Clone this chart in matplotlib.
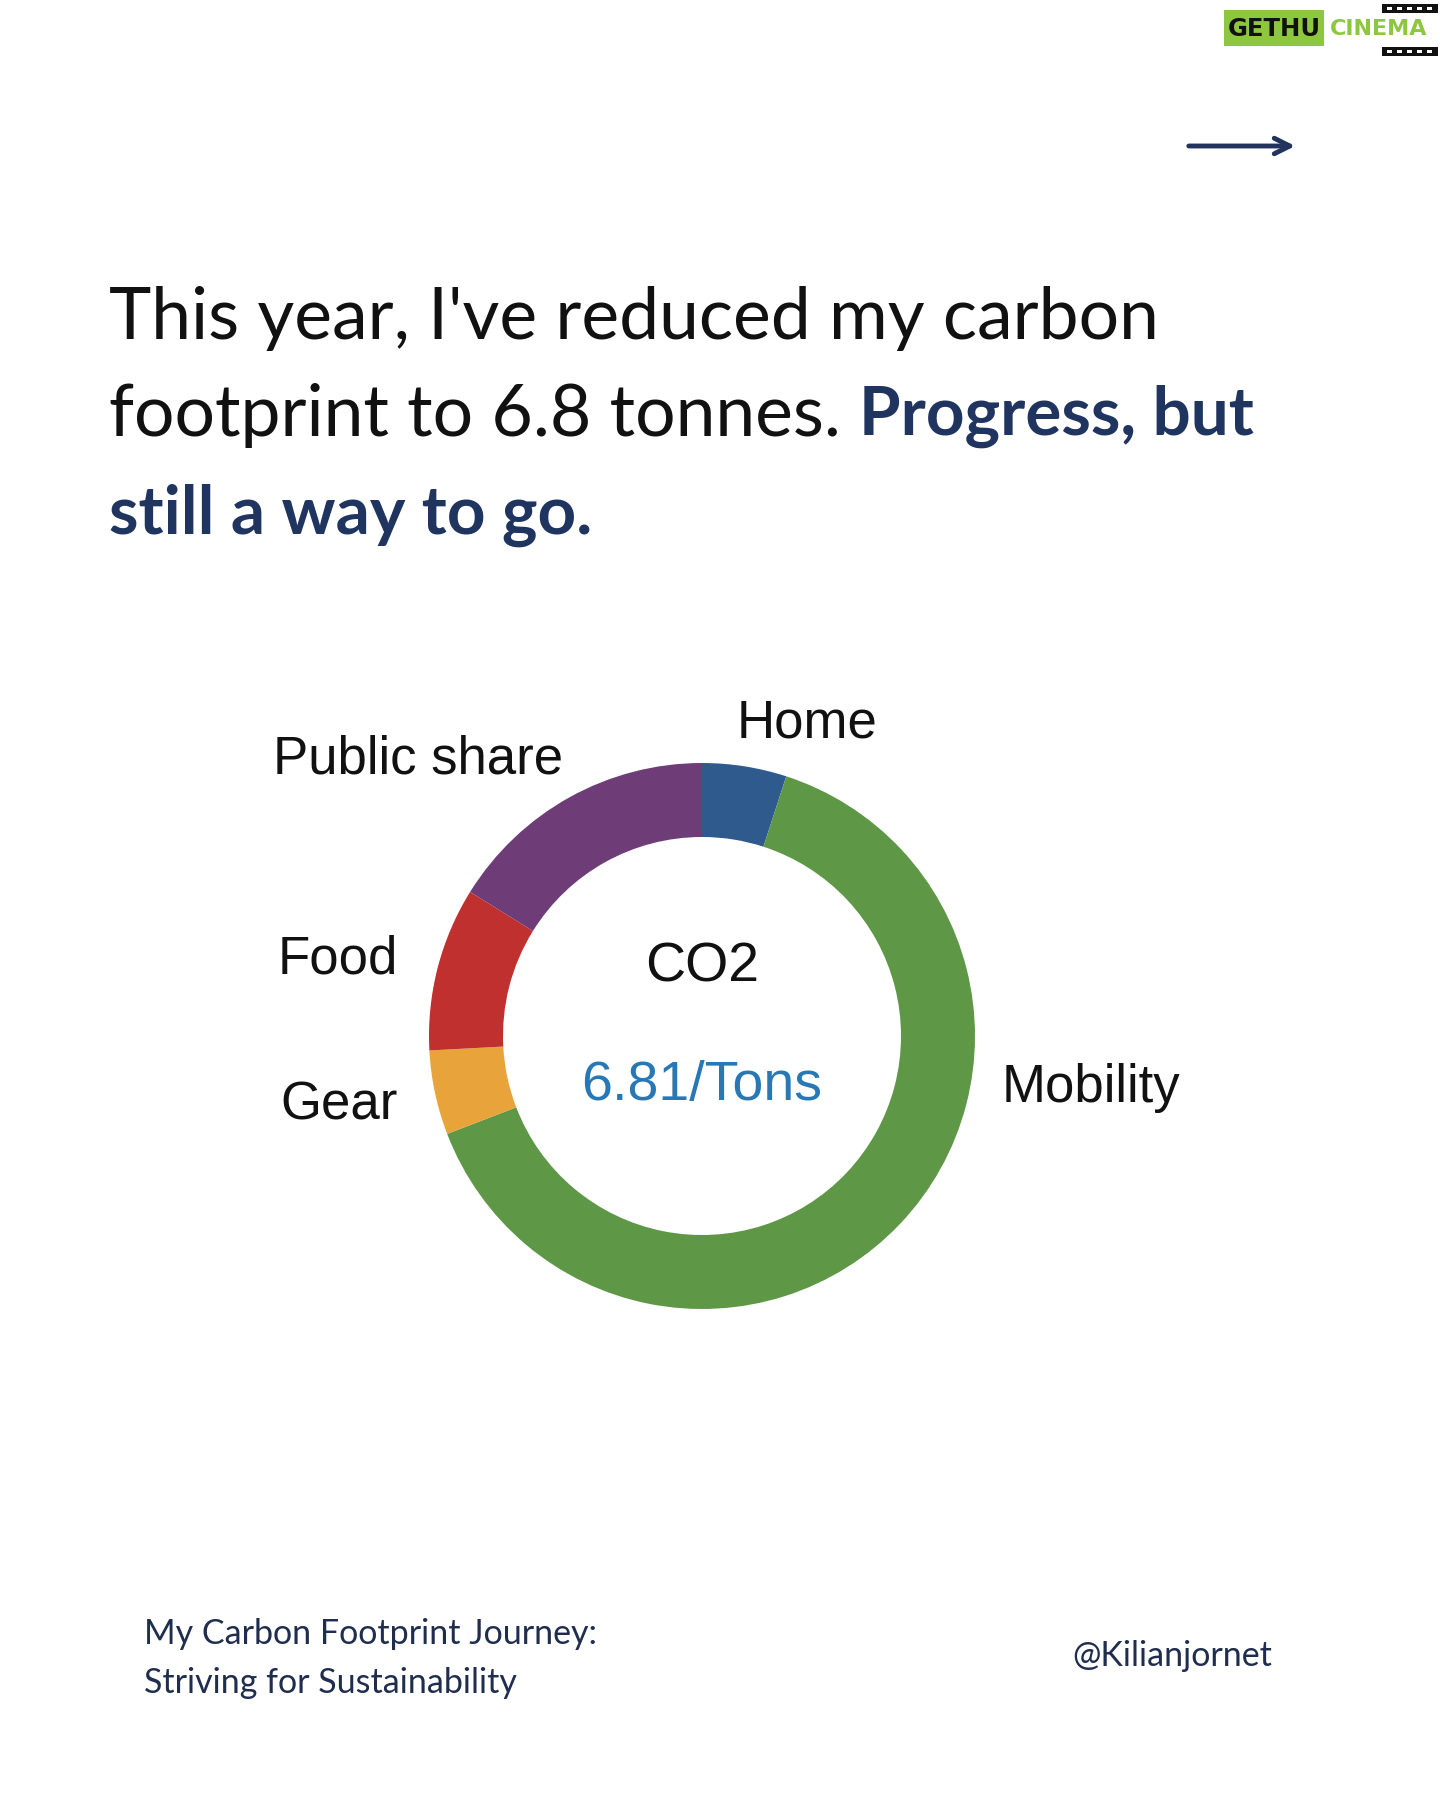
import matplotlib.pyplot as plt
from matplotlib.patches import Rectangle

# data
categories = ['Home', 'Mobility', 'Gear', 'Food', 'Public share']
tonnes = [0.34, 4.37, 0.34, 0.66, 1.10]
colors = ['#2E5A8E', '#5E9746', '#E8A33A', '#C0302E', '#6E3D77']
total_label = '6.81/Tons'

W, H = 1440, 1800
NAVY = '#1F3560'


def py(y):
    # pixel y (from top) -> data y
    return H - y


fig = plt.figure(figsize=(14.4, 18), dpi=100)
ax = fig.add_axes([0, 0, 1, 1])

# donut
ax.pie(tonnes, colors=colors, startangle=90, counterclock=False,
       center=(702, py(1036)), radius=273,
       wedgeprops=dict(width=74, linewidth=0))
ax.set_xlim(0, W)
ax.set_ylim(0, H)
ax.set_aspect('equal')
ax.axis('off')

label_pos = {'Home': (807, 723), 'Mobility': (1091, 1088), 'Gear': (339, 1106),
             'Food': (338, 959), 'Public share': (418, 760)}
for name in categories:
    x, y = label_pos[name]
    ax.text(x, py(y), name, fontsize=38, family='Liberation Sans',
            ha='center', va='center', color='#111111')

ax.text(702, py(967), 'CO2', fontsize=40, family='Liberation Sans',
        ha='center', va='center', color='#111111')
ax.text(702, py(1086), total_label, fontsize=40, family='Liberation Sans',
        ha='center', va='center', color='#2878B5')

# headline
reg = dict(family='Lato', fontsize=51.5, color='#111111')
bold = dict(family='Lato', fontsize=48.5, fontweight='bold', color=NAVY)
ax.text(109, py(339), "This year, I've reduced my carbon", va='baseline', **reg)
t2 = ax.text(109, py(436), "footprint to 6.8 tonnes. ", va='baseline', **reg)
ax.annotate("Progress, but", xy=(1, 0), xycoords=t2, va='bottom', ha='left',
            **bold)
ax.text(109, py(534), "still a way to go.", va='baseline', **bold)

# footer
ffont = dict(family='Lato', fontsize=24.5, color='#1F2D4E')
ax.text(144, py(1644), "My Carbon Footprint Journey:", va='baseline', **ffont)
ax.text(144, py(1693), "Striving for Sustainability", va='baseline', **ffont)
ax.text(1272, py(1656), "@Kilianjornet", va='center', ha='right', **ffont)

# arrow
ax.annotate('', xy=(1298, py(146)), xytext=(1186, py(146)),
            arrowprops=dict(arrowstyle='->', lw=3.5, color='#22345E',
                            mutation_scale=28))

# watermark
ax.add_patch(Rectangle((1224, py(46)), 100, 36, color='#8DC63F', lw=0))
ax.text(1274, py(29), 'GETHU', fontsize=17.5, fontweight='heavy',
        family='DejaVu Sans', ha='center', va='center', color='#111111')
ax.text(1379, py(29), 'CINEMA', fontsize=16, fontweight='heavy',
        family='DejaVu Sans', ha='center', va='center', color='#8DC63F')
for yb in (4, 47):
    ax.add_patch(Rectangle((1382, py(yb + 9)), 56, 9, color='#111111', lw=0))
    for xh in range(1387, 1434, 10):
        ax.add_patch(Rectangle((xh, py(yb + 6)), 5, 3, color='white', lw=0))

fig.savefig('out.png', dpi=100, facecolor='white')
